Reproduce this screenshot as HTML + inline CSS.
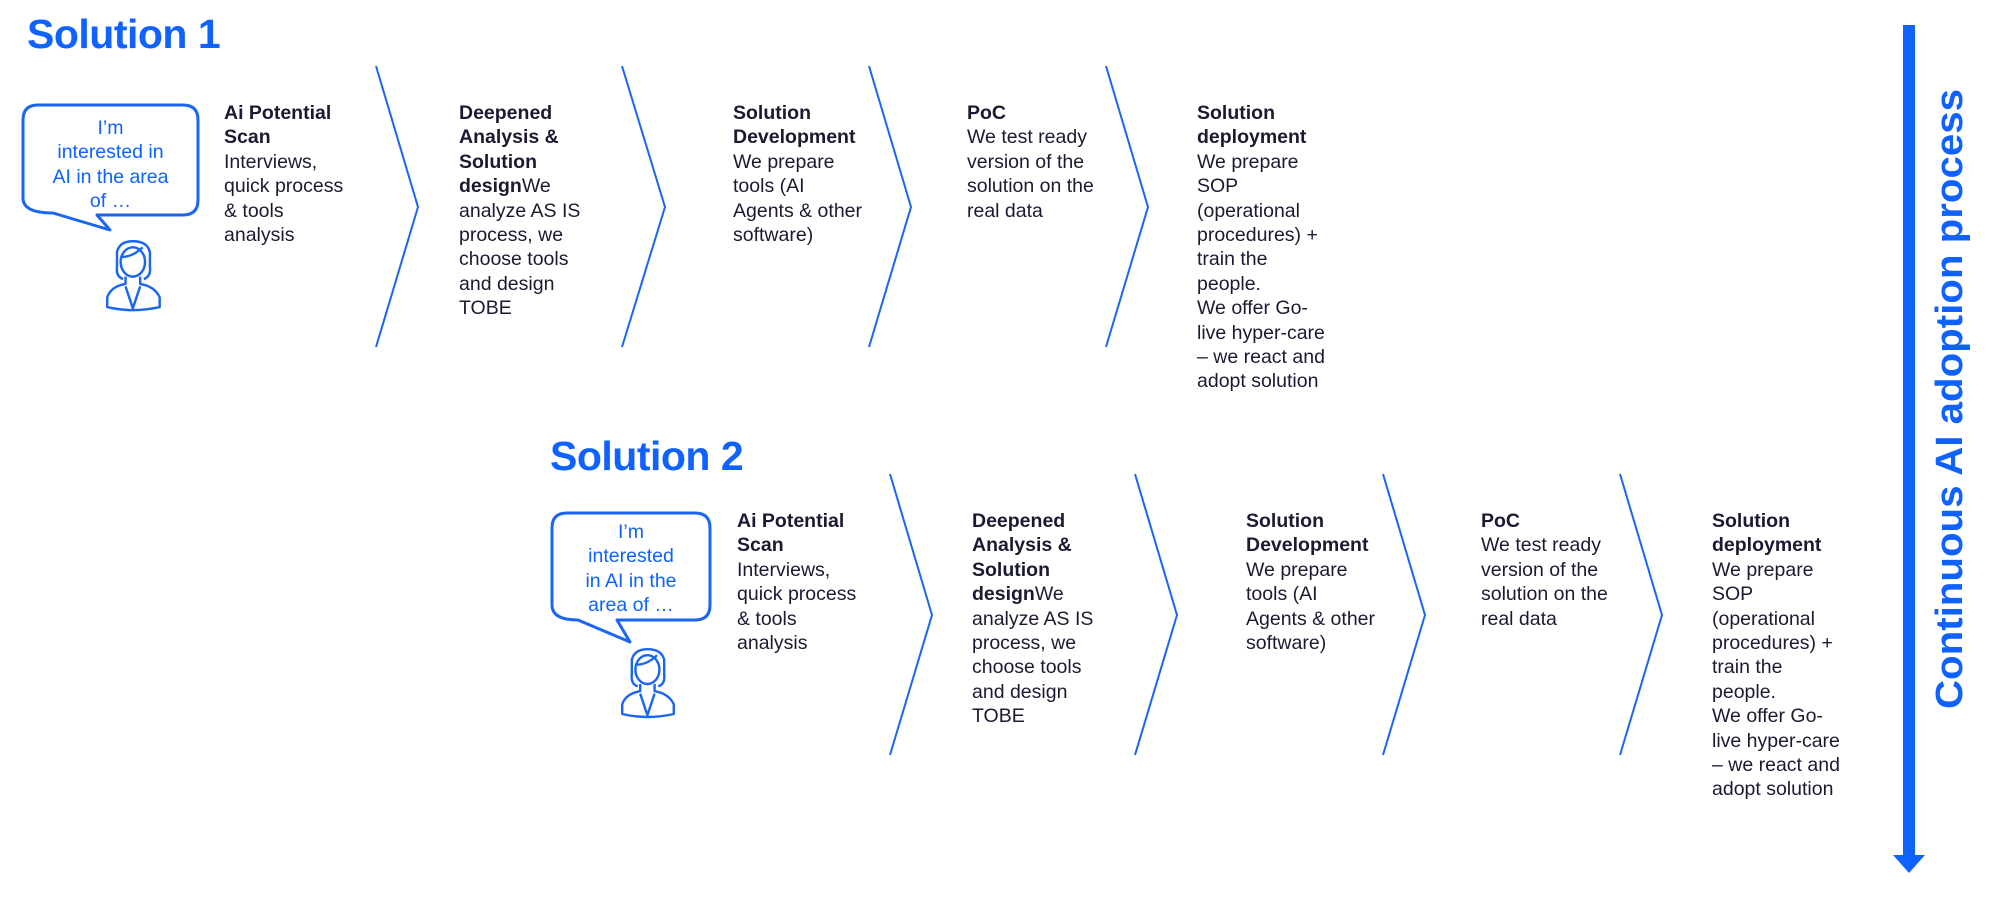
<!DOCTYPE html>
<html><head><meta charset="utf-8"><style>
body{margin:0;width:2000px;height:899px;background:#fff;position:relative;overflow:hidden;font-family:"Liberation Sans",Arial,sans-serif}
.t{position:absolute;font-size:19.5px;line-height:24.4px;color:#1a1a33;white-space:nowrap}
.t b{font-weight:bold}
.h{position:absolute;font-weight:bold;color:#0f62fe;font-size:41px;letter-spacing:-0.5px;white-space:nowrap}
.bt{position:absolute;color:#0f62fe;font-size:19.5px;line-height:24.4px;text-align:center;white-space:nowrap}
svg{position:absolute;left:0;top:0}
</style></head><body>
<svg width="2000" height="899" viewBox="0 0 2000 899">
<g fill="none" stroke="#1a66f0" stroke-width="2">
<polyline points="376,66 418,207 376,347"/>
<polyline points="622,66 665,207 622,347"/>
<polyline points="869,66 911,207 869,347"/>
<polyline points="1106,66 1148,207 1106,347"/>
<polyline points="890,474 932,615 890,755"/>
<polyline points="1135,474 1177,615 1135,755"/>
<polyline points="1383,474 1425,615 1383,755"/>
<polyline points="1620,474 1662,615 1620,755"/>
</g>
<g fill="none" stroke="#1a66f0" stroke-width="3" stroke-linejoin="round">
<path d="M38,105 H183 Q198,105 198,120 V200 Q198,215 183,215 H97 L110,230 L53,213 Q23,213 23,198 V120 Q23,105 38,105 Z"/>
<path d="M567,513 H695 Q710,513 710,528 V605 Q710,620 695,620 H617 L630,642 L578,620 Q552,620 552,605 V528 Q552,513 567,513 Z"/>
</g>
<g fill="none" stroke="#1a66f0" stroke-width="2" stroke-linejoin="round">
<g transform="translate(106,240) scale(1.22)">
<path d="M14,32 Q8,30 9,22 L9,10 Q11,1 22,1 Q34,1 36,10 L36,22 Q37,30 31,32"/>
<ellipse cx="22" cy="18" rx="10" ry="12"/>
<path d="M12,14 Q22,14 30,6"/>
<path d="M16,30 L16,36 Q4,38 1,47 L1,55 Q22,60 44,55 L44,47 Q40,38 28,36 L28,30"/>
<path d="M16,38 L22,56 L28,38"/>
</g>
<g transform="translate(621,648) scale(1.2)">
<path d="M14,32 Q8,30 9,22 L9,10 Q11,1 22,1 Q34,1 36,10 L36,22 Q37,30 31,32"/>
<ellipse cx="22" cy="18" rx="10" ry="12"/>
<path d="M12,14 Q22,14 30,6"/>
<path d="M16,30 L16,36 Q4,38 1,47 L1,55 Q22,60 44,55 L44,47 Q40,38 28,36 L28,30"/>
<path d="M16,38 L22,56 L28,38"/>
</g>
</g>
<rect x="1903" y="25" width="12" height="832" fill="#0f62fe"/>
<polygon points="1893,855 1925,855 1909,873" fill="#0f62fe"/>
<text transform="translate(1962,709) rotate(-90)" font-family="Liberation Sans, Arial, sans-serif" font-weight="bold" font-size="38" fill="#0f62fe" textLength="620" lengthAdjust="spacingAndGlyphs">Continuous AI adoption process</text>
</svg>

<div class="h" style="left:27px;top:11px">Solution 1</div>
<div class="h" style="left:550px;top:433px">Solution 2</div>

<div class="bt" style="left:23px;width:175px;top:116px">I’m<br>interested in<br>AI in the area<br>of …</div>
<div class="bt" style="left:552px;width:158px;top:520px">I’m<br>interested<br>in AI in the<br>area of …</div>

<div class="t" style="left:224px;top:101px"><b>Ai Potential<br>Scan</b><br>Interviews,<br>quick process<br>&amp; tools<br>analysis</div>
<div class="t" style="left:459px;top:101px"><b>Deepened<br>Analysis &amp;<br>Solution<br>design</b>We<br>analyze AS IS<br>process, we<br>choose tools<br>and design<br>TOBE</div>
<div class="t" style="left:733px;top:101px"><b>Solution<br>Development</b><br>We prepare<br>tools (AI<br>Agents &amp; other<br>software)</div>
<div class="t" style="left:967px;top:101px"><b>PoC</b><br>We test ready<br>version of the<br>solution on the<br>real data</div>
<div class="t" style="left:1197px;top:101px"><b>Solution<br>deployment</b><br>We prepare<br>SOP<br>(operational<br>procedures) +<br>train the<br>people.<br>We offer Go-<br>live hyper-care<br>– we react and<br>adopt solution</div>

<div class="t" style="left:737px;top:509px"><b>Ai Potential<br>Scan</b><br>Interviews,<br>quick process<br>&amp; tools<br>analysis</div>
<div class="t" style="left:972px;top:509px"><b>Deepened<br>Analysis &amp;<br>Solution<br>design</b>We<br>analyze AS IS<br>process, we<br>choose tools<br>and design<br>TOBE</div>
<div class="t" style="left:1246px;top:509px"><b>Solution<br>Development</b><br>We prepare<br>tools (AI<br>Agents &amp; other<br>software)</div>
<div class="t" style="left:1481px;top:509px"><b>PoC</b><br>We test ready<br>version of the<br>solution on the<br>real data</div>
<div class="t" style="left:1712px;top:509px"><b>Solution<br>deployment</b><br>We prepare<br>SOP<br>(operational<br>procedures) +<br>train the<br>people.<br>We offer Go-<br>live hyper-care<br>– we react and<br>adopt solution</div>
</body></html>
